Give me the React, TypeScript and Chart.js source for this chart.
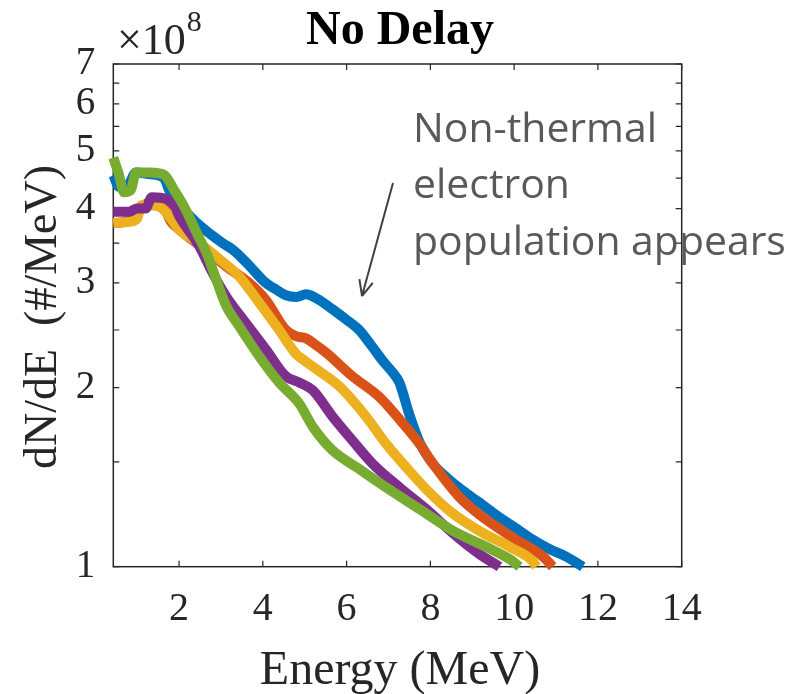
import React, { useEffect, useRef } from "react";
import { Chart, registerables } from "chart.js";
Chart.register(...registerables);

// ---- data (Energy in MeV, dN/dE in units of 1e8 /MeV) ----
const blueE = [0.43, 0.57, 0.8, 0.97, 1.3, 1.64, 1.76, 1.95, 2.12, 2.4, 2.8, 3.04, 3.31, 3.6, 4.07, 4.3, 4.55, 4.8, 5.03, 5.3, 5.66, 6.0, 6.3, 6.6, 6.86, 7.1, 7.26, 7.5, 7.74, 8.06, 8.4, 8.85, 9.25, 9.65, 10.05, 10.45, 10.85, 11.24, 11.64];
const blueV = [4.55, 4.35, 4.4, 4.6, 4.57, 4.5, 4.3, 4.1, 3.98, 3.8, 3.6, 3.5, 3.4, 3.25, 3.0, 2.93, 2.86, 2.84, 2.87, 2.82, 2.71, 2.6, 2.5, 2.35, 2.22, 2.12, 2.04, 1.8, 1.62, 1.49, 1.41, 1.33, 1.27, 1.21, 1.16, 1.11, 1.07, 1.04, 1.0];

const orangeE = [0.43, 0.8, 1.0, 1.3, 1.6, 1.81, 2.0, 2.3, 2.72, 3.12, 3.67, 4.07, 4.55, 4.8, 5.03, 5.3, 5.51, 6.14, 6.78, 7.26, 7.74, 8.06, 8.69, 9.33, 10.05, 10.69, 10.92];
const orangeV = [3.78, 3.82, 3.95, 4.1, 4.05, 3.8, 3.69, 3.55, 3.37, 3.2, 3.0, 2.81, 2.5, 2.44, 2.42, 2.35, 2.29, 2.09, 1.93, 1.77, 1.61, 1.49, 1.31, 1.2, 1.11, 1.04, 1.0];

const yellowE = [0.43, 0.8, 1.0, 1.1, 1.3, 1.6, 1.8, 2.0, 2.48, 2.96, 3.43, 3.91, 4.39, 4.79, 5.0, 5.19, 5.83, 6.46, 6.94, 7.42, 7.9, 8.53, 9.25, 9.89, 10.45, 10.53];
const yellowV = [3.78, 3.8, 3.85, 4.05, 4.05, 4.0, 3.85, 3.69, 3.5, 3.29, 3.08, 2.78, 2.5, 2.28, 2.22, 2.17, 2.01, 1.79, 1.61, 1.47, 1.35, 1.23, 1.14, 1.08, 1.02, 1.0];

const purpleE = [0.43, 0.8, 1.0, 1.2, 1.35, 1.7, 1.9, 2.0, 2.2, 2.48, 2.8, 3.12, 3.59, 4.07, 4.55, 4.87, 5.19, 5.66, 6.14, 6.62, 7.26, 7.9, 8.53, 9.17, 9.65];
const purpleV = [3.95, 3.95, 4.0, 4.0, 4.18, 4.15, 4.03, 3.89, 3.7, 3.46, 3.12, 2.85, 2.57, 2.32, 2.09, 2.04, 1.98, 1.79, 1.63, 1.49, 1.36, 1.25, 1.14, 1.05, 1.0];

const greenE = [0.43, 0.55, 0.69, 0.85, 0.97, 1.3, 1.64, 1.88, 2.12, 2.43, 2.67, 2.88, 3.12, 3.43, 3.91, 4.39, 4.87, 5.19, 5.66, 6.3, 6.94, 7.74, 8.53, 9.33, 9.89, 10.13];
const greenV = [4.87, 4.6, 4.26, 4.3, 4.6, 4.6, 4.56, 4.3, 4.03, 3.63, 3.35, 3.05, 2.75, 2.54, 2.26, 2.04, 1.88, 1.72, 1.57, 1.46, 1.36, 1.25, 1.15, 1.08, 1.03, 1.0];

const xTicks = [2, 4, 6, 8, 10, 12, 14];
const yTicks = [1, 1.5, 2, 2.5, 3, 3.5, 4, 4.5, 5, 5.5, 6, 6.5, 7];
const yLabels = [1, 2, 3, 4, 5, 6, 7];

const titleText = "No Delay";
const xTitle = "Energy (MeV)";
const yTitle = "dN/dE  (#/MeV)";
const expBase = "\u00d710";
const expPower = "8";
const annotationLines = ["Non-thermal", "electron", "population appears"];

const SERIF = "'Liberation Serif', 'Times New Roman', serif";
const SANS = "'Open Sans', 'Noto Sans', sans-serif";
const AXIS = "#262626";

function pts(E: number[], V: number[]) {
  return E.map((e, i) => ({ x: e, y: V[i] }));
}

const decor = {
  id: "decor",
  beforeDatasetsDraw(chart: any) {
    const { ctx, chartArea: a, scales } = chart;
    ctx.save();
    ctx.strokeStyle = AXIS;
    ctx.lineWidth = 1.5;
    ctx.strokeRect(a.left, a.top, a.right - a.left, a.bottom - a.top);
    ctx.lineWidth = 1.2;
    const tl = 6;
    ctx.beginPath();
    xTicks.forEach((v) => {
      const px = scales.x.getPixelForValue(v);
      ctx.moveTo(px, a.bottom);
      ctx.lineTo(px, a.bottom - tl);
      ctx.moveTo(px, a.top);
      ctx.lineTo(px, a.top + tl);
    });
    yTicks.forEach((v) => {
      const py = scales.y.getPixelForValue(v);
      ctx.moveTo(a.left, py);
      ctx.lineTo(a.left + tl, py);
      ctx.moveTo(a.right, py);
      ctx.lineTo(a.right - tl, py);
    });
    ctx.stroke();
    ctx.restore();
  },
  afterDraw(chart: any) {
    const { ctx, chartArea: a } = chart;
    ctx.save();
    // title
    ctx.fillStyle = "#000";
    ctx.font = `bold 48px ${SERIF}`;
    ctx.textAlign = "center";
    ctx.textBaseline = "alphabetic";
    ctx.fillText(titleText, 400, 44);

    // exponent
    ctx.fillStyle = AXIS;
    ctx.textAlign = "left";
    ctx.font = `44px ${SERIF}`;
    ctx.fillText(expBase, 117, 54);
    const w = ctx.measureText(expBase).width;
    ctx.font = `30px ${SERIF}`;
    ctx.fillText(expPower, 117 + w + 1, 31);

    // x title
    ctx.font = `48px ${SERIF}`;
    ctx.textAlign = "center";
    ctx.fillText(xTitle, 400, 684);

    // y title
    ctx.save();
    ctx.translate(56, 317);
    ctx.rotate(-Math.PI / 2);
    ctx.font = `46px ${SERIF}`;
    ctx.textAlign = "center";
    ctx.fillText(yTitle, 0, 0);
    ctx.restore();

    // annotation text
    ctx.fillStyle = "#595959";
    ctx.textAlign = "left";
    let size = 40;
    ctx.font = `${size}px ${SANS}`;
    const wl = ctx.measureText(annotationLines[2]).width;
    size = (size * 373) / wl;
    ctx.font = `${size}px ${SANS}`;
    const baselines = [142, 198, 255];
    annotationLines.forEach((t, i) => ctx.fillText(t, 413, baselines[i]));

    // arrow
    const x1 = 393, y1 = 183, x2 = 362, y2 = 296;
    ctx.strokeStyle = "#404040";
    ctx.lineWidth = 2;
    ctx.beginPath();
    ctx.moveTo(x1, y1);
    ctx.lineTo(x2, y2);
    const ang = Math.atan2(y2 - y1, x2 - x1);
    const hl = 17, ha = 0.42;
    ctx.moveTo(x2, y2);
    ctx.lineTo(x2 - hl * Math.cos(ang - ha), y2 - hl * Math.sin(ang - ha));
    ctx.moveTo(x2, y2);
    ctx.lineTo(x2 - hl * Math.cos(ang + ha), y2 - hl * Math.sin(ang + ha));
    ctx.stroke();
    ctx.restore();
  },
};

export default function App() {
  const ref = useRef<HTMLCanvasElement | null>(null);
  useEffect(() => {
    document.body.style.margin = "0";
    const canvas = ref.current!;
    const mk = (label: string, color: string, E: number[], V: number[]) => ({
      label,
      data: pts(E, V),
      borderColor: color,
      backgroundColor: color,
      borderWidth: 10,
      pointRadius: 0,
      cubicInterpolationMode: "monotone" as const,
      fill: false,
      clip: false as any,
      borderJoinStyle: "round" as const,
    });
    const chart = new Chart(canvas, {
      type: "line",
      data: {
        datasets: [
          mk("green", "#77AC30", greenE, greenV),
          mk("purple", "#7E2F8E", purpleE, purpleV),
          mk("yellow", "#EDB120", yellowE, yellowV),
          mk("orange", "#D95319", orangeE, orangeV),
          mk("blue", "#0072BD", blueE, blueV),
        ],
      },
      options: {
        responsive: false,
        animation: false,
        devicePixelRatio: 1,
        layout: { padding: { left: 0, top: 64, right: 124.3, bottom: 0 } },
        plugins: { legend: { display: false }, tooltip: { enabled: false }, title: { display: false } },
        scales: {
          x: {
            type: "linear",
            min: 0.43,
            max: 14,
            afterBuildTicks: (s: any) => {
              s.ticks = xTicks.map((v) => ({ value: v }));
            },
            afterFit: (s: any) => {
              s.height = 127.3;
            },
            grid: { display: false, drawTicks: false },
            border: { display: false },
            ticks: {
              autoSkip: false,
              maxRotation: 0,
              padding: 19,
              color: AXIS,
              font: { family: SERIF, size: 40 },
              callback: (v: any) => String(v),
            },
          },
          y: {
            type: "logarithmic",
            min: 1,
            max: 7,
            afterBuildTicks: (s: any) => {
              s.ticks = yTicks.map((v) => ({ value: v }));
            },
            afterFit: (s: any) => {
              s.width = 113.3;
            },
            grid: { display: false, drawTicks: false },
            border: { display: false },
            ticks: {
              autoSkip: false,
              padding: 18,
              color: AXIS,
              font: { family: SERIF, size: 39 },
              callback: (v: any) => (yLabels.includes(Number(v)) ? String(v) : ""),
            },
          },
        },
      },
      plugins: [decor],
    });
    return () => chart.destroy();
  }, []);
  return <canvas ref={ref} width={806} height={694} style={{ display: "block" }} />;
}
